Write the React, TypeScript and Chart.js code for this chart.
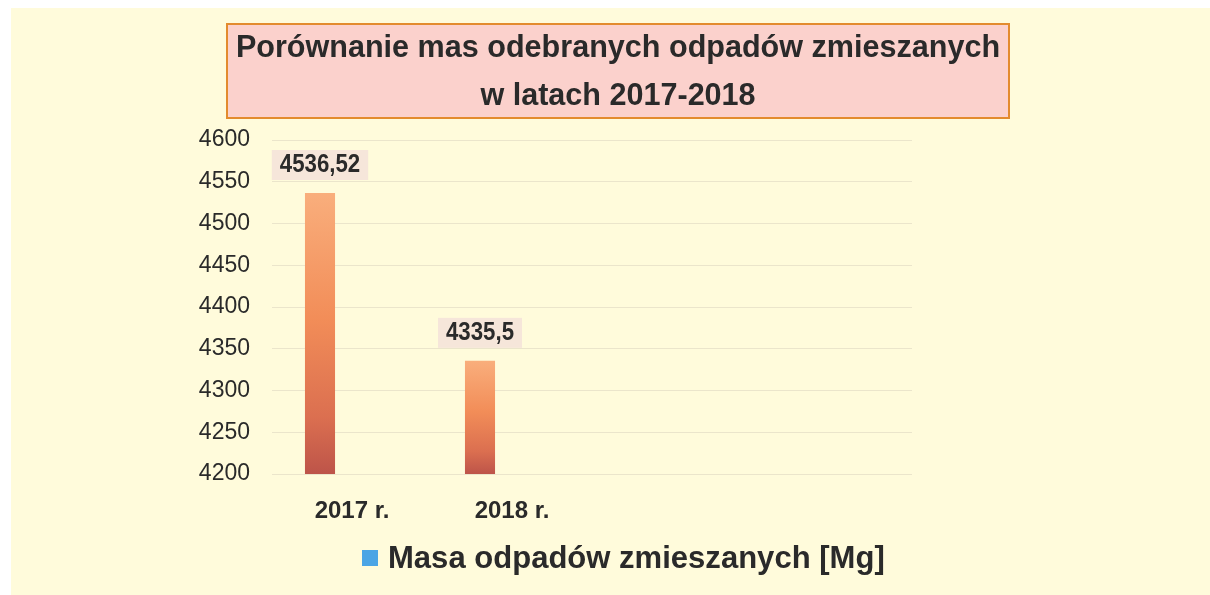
import { useEffect, useRef } from 'react';
import { Chart, registerables } from 'chart.js';

Chart.register(...registerables);

// ---- data ----
const categories = ['2017 r.', '2018 r.', '', ''];
const massValues: (number | null)[] = [4536.52, 4335.5, null, null];
const secondSeriesValues: (number | null)[] = [null, null, null, null];
const seriesLabel = 'Masa odpadów zmieszanych [Mg]';
const titleLines = ['Porównanie mas odebranych odpadów zmieszanych', 'w latach 2017-2018'];
const yMin = 4200;
const yMax = 4600;
const yStep = 50;

const FONT = "'Liberation Sans', Arial, Helvetica, sans-serif";
const TEXT = '#2a2a2a';

const pagePlugin = {
  id: 'pageBg',
  beforeDraw(chart: any) {
    const { ctx, width, height } = chart;
    ctx.save();
    ctx.fillStyle = '#ffffff';
    ctx.fillRect(0, 0, width, height);
    ctx.fillStyle = '#fffbdb';
    ctx.fillRect(11, 8, width - 11, height - 8);
    ctx.restore();
  },
};

const boxTitlePlugin = {
  id: 'boxTitle',
  afterDraw(chart: any, _args: any, opts: any) {
    const { ctx } = chart;
    const { x, y, w, h } = opts.box;
    ctx.save();
    ctx.fillStyle = '#fbd1cc';
    ctx.fillRect(x, y, w, h);
    ctx.strokeStyle = '#e38b2e';
    ctx.lineWidth = 2;
    ctx.strokeRect(x, y, w, h);
    ctx.fillStyle = TEXT;
    ctx.font = `bold ${opts.size}px ${FONT}`;
    ctx.textAlign = 'center';
    ctx.textBaseline = 'middle';
    const lines: string[] = opts.lines;
    const cx = x + w / 2;
    lines.forEach((line, i) => {
      ctx.save();
      ctx.translate(cx, y + h / 2 + (i - (lines.length - 1) / 2) * opts.lineGap + 1);
      ctx.scale(opts.squeeze, 1);
      ctx.fillText(line, 0, 0);
      ctx.restore();
    });
    ctx.restore();
  },
};

const customLegendPlugin = {
  id: 'customLegend',
  afterDraw(chart: any, _args: any, opts: any) {
    const { ctx } = chart;
    const ds = chart.data.datasets[0];
    ctx.save();
    ctx.fillStyle = opts.boxColor;
    ctx.fillRect(opts.x, opts.y - opts.boxSize / 2, opts.boxSize, opts.boxSize);
    ctx.fillStyle = TEXT;
    ctx.font = `bold ${opts.size}px ${FONT}`;
    ctx.textAlign = 'left';
    ctx.textBaseline = 'middle';
    ctx.translate(opts.x + opts.boxSize + opts.gap, opts.y + 1);
    ctx.scale(opts.squeeze, 1);
    ctx.fillText(ds.label, 0, 0);
    ctx.restore();
  },
};

const valueLabelPlugin = {
  id: 'valueLabels',
  afterDatasetsDraw(chart: any, _args: any, opts: any) {
    const { ctx } = chart;
    const meta = chart.getDatasetMeta(0);
    const data = chart.data.datasets[0].data;
    ctx.save();
    ctx.font = `bold ${opts.size}px ${FONT}`;
    ctx.textAlign = 'center';
    ctx.textBaseline = 'middle';
    meta.data.forEach((bar: any, i: number) => {
      const v = data[i];
      if (v === null || v === undefined) return;
      const text = String(v).replace('.', ',');
      const tw = ctx.measureText(text).width * opts.squeeze;
      const cy = bar.y - opts.offset;
      ctx.fillStyle = '#f6e6da';
      ctx.fillRect(bar.x - tw / 2 - 8, cy - 15, tw + 16, 30);
      ctx.fillStyle = TEXT;
      ctx.save();
      ctx.translate(bar.x, cy);
      ctx.scale(opts.squeeze, 1);
      ctx.fillText(text, 0, 0);
      ctx.restore();
    });
    ctx.restore();
  },
};

function barGradient(c: any) {
  const chart = c.chart;
  if (!chart.chartArea || c.type !== 'data' || c.raw == null) return '#f08b56';
  const ys = chart.scales.y;
  const top = ys.getPixelForValue(c.raw);
  const bottom = ys.getPixelForValue(yMin);
  const g = chart.ctx.createLinearGradient(0, top, 0, bottom);
  g.addColorStop(0, '#f9ae7c');
  g.addColorStop(0.45, '#f28d58');
  g.addColorStop(0.8, '#db6f50');
  g.addColorStop(1, '#bd5449');
  return g;
}

export default function App() {
  const ref = useRef<HTMLCanvasElement>(null);

  useEffect(() => {
    const chart = new Chart(ref.current as HTMLCanvasElement, {
      type: 'bar',
      data: {
        labels: categories,
        datasets: [
          {
            label: seriesLabel,
            data: massValues,
            backgroundColor: barGradient,
            categoryPercentage: 0.8,
            barPercentage: 0.47,
          },
          {
            label: '',
            data: secondSeriesValues,
            backgroundColor: '#4ba5e5',
            categoryPercentage: 0.8,
            barPercentage: 0.47,
          },
        ],
      },
      options: {
        responsive: false,
        animation: false,
        layout: { padding: { left: 0, right: 298, top: 140, bottom: 0 } },
        plugins: {
          legend: { display: false },
          title: { display: false },
          tooltip: { enabled: false },
          boxTitle: {
            lines: titleLines,
            box: { x: 227, y: 24, w: 782, h: 94 },
            size: 32,
            lineGap: 48,
            squeeze: 0.955,
          },
          customLegend: {
            x: 362,
            y: 558,
            boxSize: 16,
            gap: 10,
            size: 32,
            squeeze: 0.97,
            boxColor: '#4ba5e5',
          },
          valueLabels: { size: 25, offset: 28, squeeze: 0.89 },
        } as any,
        scales: {
          x: {
            grid: { display: false, drawTicks: false },
            border: { display: false },
            ticks: {
              font: { family: FONT, size: 24, weight: 'bold' },
              color: TEXT,
              padding: 23,
              maxRotation: 0,
              autoSkip: false,
            },
            afterFit(s: any) {
              s.height = 121;
            },
          },
          y: {
            min: yMin,
            max: yMax,
            grid: { color: '#ebe5cb', drawTicks: false },
            border: { display: false },
            ticks: {
              stepSize: yStep,
              font: { family: FONT, size: 23 },
              color: TEXT,
              padding: 22,
              callback: (v: any) => String(v),
            },
            afterFit(s: any) {
              s.width = 272;
            },
          },
        },
      },
      plugins: [pagePlugin, boxTitlePlugin, customLegendPlugin, valueLabelPlugin],
    });
    return () => chart.destroy();
  }, []);

  return (
    <div style={{ position: 'absolute', left: 0, top: 0, width: 1210, height: 595 }}>
      <canvas ref={ref} width={1210} height={595} style={{ display: 'block' }} />
    </div>
  );
}
